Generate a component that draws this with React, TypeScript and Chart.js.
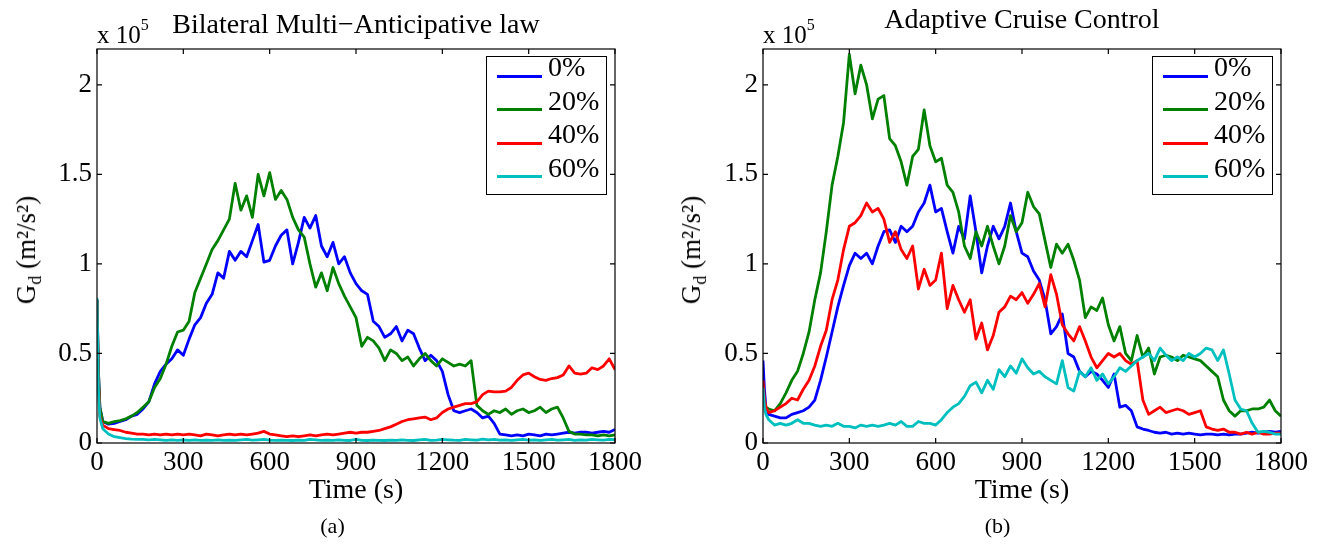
import React, { useEffect, useRef } from 'react';
import { Chart, registerables } from 'chart.js';

Chart.register(...registerables);

const FONT = '"Liberation Serif", "Times New Roman", serif';

// time axis (s)
const TIMES = [
  0, 5, 10,
  20, 40, 60, 80, 100, 120, 140, 160, 180, 200,
  220, 240, 260, 280, 300, 320, 340, 360, 380, 400,
  420, 440, 460, 480, 500, 520, 540, 560, 580, 600,
  620, 640, 660, 680, 700, 720, 740, 760, 780, 800,
  820, 840, 860, 880, 900, 920, 940, 960, 980, 1000,
  1020, 1040, 1060, 1080, 1100, 1120, 1140, 1160, 1180, 1200,
  1220, 1240, 1260, 1280, 1300, 1320, 1340, 1360, 1380, 1400,
  1420, 1440, 1460, 1480, 1500, 1520, 1540, 1560, 1580, 1600,
  1620, 1640, 1660, 1680, 1700, 1720, 1740, 1760, 1780, 1800,
];

const SERIES_LABELS = ['0%', '20%', '40%', '60%'];
const COLORS = ['#0000ff', '#008000', '#ff0000', '#00bfbf'];
const X_TICKS = [0, 300, 600, 900, 1200, 1500, 1800];
const Y_TICKS = [0, 0.5, 1, 1.5, 2];

// (a) Bilateral Multi-Anticipative law, G_d in units of 1e5 m^2/s^2
const BMA_0 = [
  0.8, 0.4, 0.2,
  0.12, 0.105, 0.11, 0.12, 0.13, 0.15, 0.16, 0.19, 0.23, 0.33,
  0.40, 0.44, 0.47, 0.52, 0.49, 0.58, 0.66, 0.70, 0.78, 0.83,
  0.95, 0.92, 1.07, 1.02, 1.07, 1.04, 1.13, 1.22, 1.01, 1.02,
  1.10, 1.16, 1.19, 1.0, 1.12, 1.26, 1.2, 1.27, 1.1, 1.04,
  1.12, 1.0, 1.04, 0.95, 0.89, 0.85, 0.83, 0.68, 0.65, 0.59,
  0.61, 0.65, 0.57, 0.63, 0.61, 0.53, 0.46, 0.49, 0.46, 0.40,
  0.27, 0.18, 0.17, 0.18, 0.19, 0.17, 0.14, 0.15, 0.11, 0.05,
  0.045, 0.04, 0.045, 0.04, 0.05, 0.045, 0.04, 0.05, 0.045, 0.05,
  0.055, 0.06, 0.055, 0.06, 0.06, 0.055, 0.06, 0.065, 0.06, 0.075,
];
const BMA_20 = [
  0.8, 0.4, 0.2,
  0.12, 0.11, 0.12, 0.125, 0.135, 0.15, 0.17, 0.2, 0.23, 0.31,
  0.36, 0.44, 0.54, 0.62, 0.63, 0.68, 0.84, 0.92, 1.0, 1.08,
  1.13, 1.19, 1.25, 1.45, 1.3, 1.38, 1.26, 1.5, 1.38, 1.51,
  1.36, 1.41, 1.36, 1.26, 1.19, 1.15, 1.0, 0.87, 0.95, 0.85,
  0.98, 0.89, 0.82, 0.76, 0.7, 0.54, 0.59, 0.57, 0.53, 0.46,
  0.52, 0.5, 0.46, 0.48, 0.43, 0.47, 0.5, 0.46, 0.43, 0.47,
  0.45, 0.43, 0.44, 0.43, 0.46, 0.21, 0.18, 0.16, 0.18, 0.17,
  0.19, 0.16, 0.18, 0.19, 0.17, 0.18, 0.2, 0.17, 0.19, 0.2,
  0.14, 0.065, 0.05, 0.05, 0.045, 0.045, 0.04, 0.045, 0.04, 0.045,
];
const BMA_40 = [
  0.8, 0.35, 0.15,
  0.1, 0.08, 0.075, 0.07, 0.06, 0.055, 0.05, 0.05, 0.045, 0.05,
  0.045, 0.05, 0.045, 0.05, 0.045, 0.05, 0.045, 0.04, 0.05, 0.045,
  0.04, 0.045, 0.05, 0.045, 0.05, 0.045, 0.05, 0.055, 0.065, 0.05,
  0.045, 0.04, 0.035, 0.04, 0.035, 0.04, 0.045, 0.04, 0.045, 0.05,
  0.045, 0.05, 0.055, 0.06, 0.055, 0.06, 0.06, 0.065, 0.07, 0.08,
  0.09, 0.105, 0.12, 0.13, 0.135, 0.14, 0.145, 0.13, 0.14, 0.17,
  0.19, 0.2, 0.21, 0.22, 0.22, 0.23, 0.27, 0.29, 0.285, 0.285,
  0.29, 0.31, 0.35, 0.38, 0.39, 0.37, 0.355, 0.35, 0.36, 0.365,
  0.38, 0.43, 0.39, 0.385, 0.39, 0.42, 0.41, 0.43, 0.47, 0.41,
];
const BMA_60 = [
  0.81, 0.3, 0.14,
  0.08, 0.05, 0.035, 0.03, 0.025, 0.022, 0.02, 0.02, 0.018, 0.02,
  0.018, 0.015, 0.018, 0.015, 0.018, 0.015, 0.018, 0.015, 0.016, 0.015,
  0.018, 0.015, 0.016, 0.015, 0.018, 0.02, 0.016, 0.018, 0.02, 0.016,
  0.015, 0.016, 0.015, 0.014, 0.016, 0.015, 0.02, 0.018, 0.015, 0.016,
  0.015, 0.018, 0.015, 0.014, 0.02, 0.015, 0.014, 0.016, 0.015, 0.014,
  0.016, 0.015, 0.018, 0.015, 0.014, 0.018, 0.02, 0.015, 0.016, 0.02,
  0.018, 0.016, 0.015, 0.02, 0.018, 0.016, 0.022, 0.018, 0.02, 0.016,
  0.018, 0.015, 0.018, 0.02, 0.016, 0.018, 0.015, 0.018, 0.02, 0.016,
  0.018, 0.02, 0.015, 0.018, 0.016, 0.02, 0.018, 0.016, 0.02, 0.018,
];

// (b) Adaptive Cruise Control
const ACC_0 = [
  0.46, 0.3, 0.2,
  0.16, 0.15, 0.14, 0.14, 0.16, 0.17, 0.18, 0.2, 0.24, 0.35,
  0.48, 0.62, 0.76, 0.88, 0.99, 1.06, 1.03, 1.06, 1.0, 1.1,
  1.18, 1.19, 1.12, 1.21, 1.18, 1.21, 1.29, 1.34, 1.44, 1.29,
  1.31, 1.18, 1.06, 1.21, 1.14, 1.38, 1.18, 0.95, 1.1, 1.21,
  1.14, 1.21, 1.34, 1.18, 1.06, 1.04, 0.96, 0.91, 0.8, 0.61,
  0.65, 0.72, 0.5, 0.48, 0.4, 0.37, 0.4, 0.385, 0.35, 0.31,
  0.385, 0.2, 0.21, 0.18, 0.09, 0.078, 0.07, 0.06, 0.055, 0.06,
  0.05, 0.055, 0.05, 0.055, 0.05, 0.045, 0.05, 0.05, 0.045, 0.05,
  0.045, 0.05, 0.05, 0.055, 0.06, 0.055, 0.06, 0.065, 0.06, 0.065,
];
const ACC_20 = [
  0.3, 0.22, 0.2,
  0.19, 0.18, 0.22, 0.28, 0.35, 0.4, 0.5, 0.62, 0.8, 0.95,
  1.18, 1.44, 1.6, 1.79, 2.17, 1.95, 2.11, 2.0, 1.81, 1.92,
  1.94, 1.7, 1.66, 1.57, 1.44, 1.6, 1.64, 1.86, 1.66, 1.57,
  1.59, 1.44, 1.4, 1.29, 1.1, 1.03, 1.18, 1.1, 1.21, 1.1,
  1.0, 1.1, 1.27, 1.18, 1.23, 1.4, 1.32, 1.28, 1.13, 0.98,
  1.11, 1.06, 1.11, 1.02, 0.91, 0.7, 0.76, 0.74, 0.81, 0.66,
  0.57, 0.65, 0.5, 0.46, 0.6, 0.48, 0.53, 0.385, 0.48, 0.49,
  0.48, 0.46, 0.49, 0.48, 0.47, 0.46, 0.43, 0.4, 0.37, 0.24,
  0.18, 0.15, 0.18, 0.18, 0.19, 0.19, 0.2, 0.24, 0.18, 0.15,
];
const ACC_40 = [
  0.35, 0.25, 0.2,
  0.17, 0.18, 0.2, 0.22, 0.25, 0.24, 0.3, 0.35, 0.43, 0.54,
  0.63, 0.8, 0.91, 1.08, 1.21, 1.23, 1.27, 1.34, 1.29, 1.31,
  1.25, 1.12, 1.18, 1.08, 1.03, 1.1, 0.86, 0.97, 0.88, 0.91,
  1.06, 0.75, 0.88, 0.8, 0.73, 0.8, 0.58, 0.67, 0.52, 0.6,
  0.73, 0.76, 0.82, 0.8, 0.84, 0.78, 0.83, 0.89, 0.76, 0.94,
  0.83, 0.66, 0.61, 0.57, 0.65, 0.57, 0.48, 0.42, 0.46, 0.5,
  0.48, 0.5, 0.46, 0.44, 0.46, 0.24, 0.16, 0.18, 0.2, 0.17,
  0.18, 0.19, 0.18, 0.16, 0.17, 0.18, 0.09, 0.078, 0.07, 0.078,
  0.06, 0.06, 0.05, 0.06, 0.05, 0.06, 0.05, 0.05, 0.055, 0.055,
];
const ACC_60 = [
  0.31, 0.2, 0.16,
  0.13, 0.1, 0.11, 0.1, 0.11, 0.13, 0.11, 0.11, 0.1, 0.093,
  0.1, 0.093, 0.11, 0.093, 0.093, 0.084, 0.1, 0.093, 0.1, 0.093,
  0.1, 0.11, 0.1, 0.12, 0.093, 0.093, 0.12, 0.11, 0.11, 0.1,
  0.13, 0.17, 0.2, 0.22, 0.26, 0.32, 0.34, 0.28, 0.35, 0.3,
  0.41, 0.37, 0.43, 0.39, 0.47, 0.42, 0.385, 0.4, 0.37, 0.35,
  0.33, 0.46, 0.31, 0.29, 0.4, 0.37, 0.42, 0.35, 0.385, 0.33,
  0.37, 0.42, 0.4, 0.43, 0.46, 0.48, 0.5, 0.46, 0.53, 0.49,
  0.46, 0.48, 0.46, 0.5, 0.48, 0.5, 0.53, 0.52, 0.46, 0.52,
  0.385, 0.24, 0.19, 0.18, 0.11, 0.06, 0.065, 0.06, 0.05, 0.05,
];

const frameTicks = {
  id: 'frameTicks',
  afterDatasetsDraw(chart: any) {
    const { ctx, chartArea: a, scales } = chart;
    ctx.save();
    ctx.strokeStyle = '#000';
    ctx.lineWidth = 1.2;
    ctx.strokeRect(a.left, a.top, a.right - a.left, a.bottom - a.top);
    const L = 5;
    ctx.beginPath();
    X_TICKS.forEach((v) => {
      const x = scales.x.getPixelForValue(v);
      ctx.moveTo(x, a.bottom);
      ctx.lineTo(x, a.bottom - L);
      ctx.moveTo(x, a.top);
      ctx.lineTo(x, a.top + L);
    });
    Y_TICKS.forEach((v) => {
      const y = scales.y.getPixelForValue(v);
      ctx.moveTo(a.left, y);
      ctx.lineTo(a.left + L, y);
      ctx.moveTo(a.right, y);
      ctx.lineTo(a.right - L, y);
    });
    ctx.stroke();
    ctx.restore();
  },
};

function Txt(props: { x: number; base: number; size: number; center?: boolean; children: any }) {
  const { x, base, size, center, children } = props;
  return (
    <div
      style={{
        position: 'absolute',
        left: x,
        top: base - 0.8375 * size,
        fontSize: size,
        lineHeight: `${size}px`,
        fontFamily: FONT,
        whiteSpace: 'nowrap',
        color: '#000',
        transform: center ? 'translateX(-50%)' : undefined,
      }}
    >
      {children}
    </div>
  );
}

function Legend(props: { left: number; top: number }) {
  const { left, top } = props;
  return (
    <div
      style={{
        position: 'absolute',
        left,
        top,
        width: 121,
        height: 139,
        boxSizing: 'border-box',
        border: '1px solid #000',
        background: '#fff',
        fontFamily: FONT,
      }}
    >
      {SERIES_LABELS.map((lab, i) => {
        const cy = 19 + i * 33.5;
        return (
          <React.Fragment key={lab}>
            <div
              style={{
                position: 'absolute',
                left: 10,
                top: cy - 1.5,
                width: 45,
                height: 3,
                background: COLORS[i],
              }}
            />
            <div
              style={{
                position: 'absolute',
                left: 61,
                top: cy - 0.3375 * 28 - 14 + 0.5,
                fontSize: 28,
                lineHeight: '28px',
                whiteSpace: 'nowrap',
              }}
            >
              {lab}
            </div>
          </React.Fragment>
        );
      })}
    </div>
  );
}

function Panel(props: {
  left: number;
  series: number[][];
  axisW: number;
  padRight: number;
  title: string;
  titleBase: number;
  caption: string;
}) {
  const { left, series, axisW, padRight, title, titleBase, caption } = props;
  const ref = useRef<HTMLCanvasElement>(null);
  useEffect(() => {
    if (!ref.current) return;
    const chart = new Chart(ref.current, {
      type: 'line',
      data: {
        datasets: series.map((vals, i) => ({
          label: SERIES_LABELS[i],
          data: TIMES.map((t, j) => ({ x: t, y: vals[j] })),
          borderColor: COLORS[i],
          backgroundColor: COLORS[i],
          borderWidth: 2.8,
          borderJoinStyle: 'round',
          pointRadius: 0,
          tension: 0,
          fill: false,
          order: 3 - i,
        })),
      },
      options: {
        responsive: false,
        animation: false,
        events: [],
        layout: { padding: { left: 0, right: padRight, top: 49, bottom: 0 } },
        plugins: { legend: { display: false }, tooltip: { enabled: false }, title: { display: false } },
        scales: {
          x: {
            type: 'linear',
            min: 0,
            max: 1800,
            afterBuildTicks: (s: any) => {
              s.ticks = X_TICKS.map((v) => ({ value: v }));
            },
            afterFit: (s: any) => {
              s.height = 103;
            },
            grid: { display: false, drawTicks: false },
            border: { display: false },
            ticks: {
              color: '#000',
              font: { family: FONT, size: 27 },
              padding: 4,
              maxRotation: 0,
              autoSkip: false,
              callback: (v: any) => String(v),
            },
          },
          y: {
            type: 'linear',
            min: 0,
            max: 2.2,
            afterBuildTicks: (s: any) => {
              s.ticks = Y_TICKS.map((v) => ({ value: v }));
            },
            afterFit: (s: any) => {
              s.width = axisW;
            },
            grid: { display: false, drawTicks: false },
            border: { display: false },
            ticks: {
              color: '#000',
              font: { family: FONT, size: 27 },
              padding: 5,
              autoSkip: false,
              callback: (v: any) => String(v),
            },
          },
        },
      } as any,
      plugins: [frameTicks],
    });
    return () => chart.destroy();
  }, []);

  const areaL = axisW;
  const areaR = 665 - padRight;
  const cx = (areaL + areaR) / 2;

  return (
    <div style={{ position: 'absolute', left, top: 0, width: 665, height: 546 }}>
      <canvas
        ref={ref}
        width={665}
        height={546}
        style={{ position: 'absolute', left: 0, top: 0, width: 665, height: 546 }}
      />
      <Txt x={cx} base={titleBase} size={28} center>
        {title}
      </Txt>
      <Txt x={areaL} base={42.5} size={25}>
        x 10<span style={{ fontSize: 16, position: 'relative', top: -13 }}>5</span>
      </Txt>
      <div
        style={{
          position: 'absolute',
          left: 28,
          top: 250,
          transform: 'translate(-50%, -50%) rotate(-90deg)',
          fontFamily: FONT,
          fontSize: 27,
          lineHeight: '27px',
          whiteSpace: 'nowrap',
          color: '#000',
        }}
      >
        G<span style={{ fontSize: 18, position: 'relative', top: 6 }}>d</span> (m²/s²)
      </div>
      <Txt x={cx} base={498} size={28} center>
        Time (s)
      </Txt>
      <Txt x={332.5} base={533} size={22} center>
        {caption}
      </Txt>
      <Legend left={areaL + 389} top={56} />
    </div>
  );
}

export default function App() {
  return (
    <div style={{ position: 'fixed', left: 0, top: 0, width: 1330, height: 546, background: '#fff', overflow: 'hidden' }}>
      <Panel
        left={0}
        series={[BMA_0, BMA_20, BMA_40, BMA_60]}
        axisW={97}
        padRight={50}
        title="Bilateral Multi−Anticipative law"
        titleBase={33}
        caption="(a)"
      />
      <Panel
        left={665}
        series={[ACC_0, ACC_20, ACC_40, ACC_60]}
        axisW={98}
        padRight={49}
        title="Adaptive Cruise Control"
        titleBase={28}
        caption="(b)"
      />
    </div>
  );
}
